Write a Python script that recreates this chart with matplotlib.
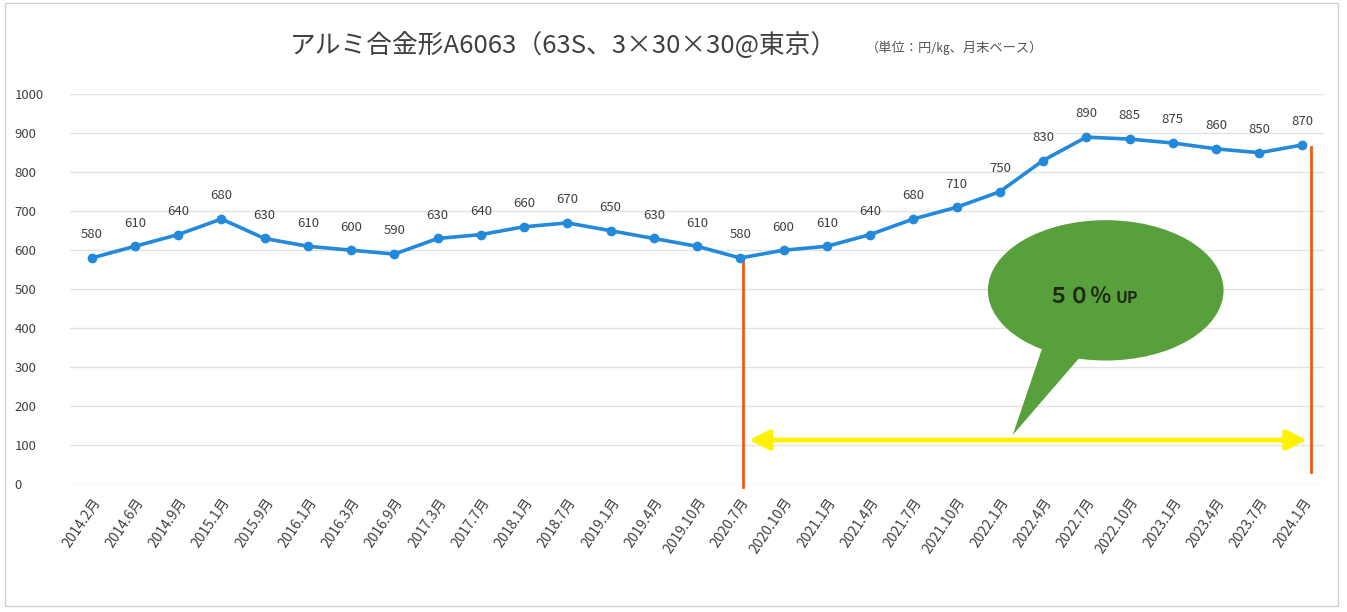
import numpy as np
import matplotlib
matplotlib.use("Agg")
import matplotlib.pyplot as plt
from matplotlib.patches import Ellipse, Polygon, Rectangle

plt.rcParams['font.family'] = ['Noto Sans CJK JP', 'DejaVu Sans']

# ---------
# data
# ---------
months = ["2014.2月", "2014.6月", "2014.9月", "2015.1月", "2015.9月", "2016.1月",
          "2016.3月", "2016.9月", "2017.3月", "2017.7月", "2018.1月", "2018.7月",
          "2019.1月", "2019.4月", "2019.10月", "2020.7月", "2020.10月", "2021.1月",
          "2021.4月", "2021.7月", "2021.10月", "2022.1月", "2022.4月", "2022.7月",
          "2022.10月", "2023.1月", "2023.4月", "2023.7月", "2024.1月"]
prices = [580, 610, 640, 680, 630, 610, 600, 590, 630, 640, 660, 670, 650, 630,
          610, 580, 600, 610, 640, 680, 710, 750, 830, 890, 885, 875, 860, 850, 870]
yticks = [0, 100, 200, 300, 400, 500, 600, 700, 800, 900, 1000]
start_idx = 15
end_idx = 28

# ---------
# plot
# ---------
fig = plt.figure(figsize=(13.47, 6.12), dpi=100)
ax = fig.add_axes([0.052, 0.209, 0.931, 0.637])
x = np.arange(len(months))

ax.plot(x, prices, color="#2389DA", lw=2.6, marker="o", ms=6, zorder=3)
for xi, v in zip(x, prices):
    ax.annotate(str(v), (xi, v), xytext=(0, 12), textcoords="offset points",
                ha="center", va="bottom", fontsize=9.5, color="#404040")

ax.set_xlim(-0.5, len(months) - 0.5)
ax.set_ylim(0, 1000)
ax.set_yticks(yticks)
ax.set_yticklabels([str(t) for t in yticks], fontsize=9.5, color="#404040")
ax.set_xticks(x)
ax.set_xticklabels(months, rotation=56, ha="right", rotation_mode="anchor",
                   fontsize=10, color="#404040")
ax.tick_params(length=0, pad=8)
ax.tick_params(axis="y", pad=40)
for lbl in ax.get_yticklabels():
    lbl.set_horizontalalignment("left")
ax.grid(axis="y", color="#E2E2E2", lw=1)
ax.set_axisbelow(True)
for s in ax.spines.values():
    s.set_visible(False)

# orange markers for the 2020.7 -> 2024.1 span
ax.plot([start_idx + 0.07, start_idx + 0.07], [-8, prices[start_idx]],
        color="#F05A14", lw=2, zorder=2, clip_on=False)
ax.plot([end_idx + 0.2, end_idx + 0.2], [30, prices[end_idx] - 5],
        color="#F05A14", lw=2, zorder=2, clip_on=False)

# yellow double arrow
ax.annotate("", xy=(start_idx + 0.2, 113), xytext=(end_idx + 0.1, 113),
            arrowprops=dict(arrowstyle="<|-|>", color="#FFF200", lw=3.5,
                            mutation_scale=30, shrinkA=0, shrinkB=0))

# green speech bubble
bubble_c = (23.45, 497)
tail = Polygon([[22.2, 420], [21.3, 126], [23.2, 370]], closed=True,
               facecolor="#57A03C", edgecolor="none", zorder=4)
ax.add_patch(tail)
ax.add_patch(Ellipse(bubble_c, 5.45, 360, facecolor="#57A03C",
                     edgecolor="none", zorder=4))
ax.text(22.85, 480, "５０％", ha="center", va="center", fontsize=15.5,
        fontweight="bold", color="#1E2A14", zorder=5)
ax.text(23.95, 478, "UP", ha="center", va="center", fontsize=11.5,
        fontweight="bold", color="#1E2A14", zorder=5)

# title
fig.text(0.418, 0.925, "アルミ合金形A6063（63S、3×30×30@東京）", ha="center",
         va="center", fontsize=18.5, color="#404040")
fig.text(0.709, 0.922, "（単位：円/㎏、月末ベース）", ha="center", va="center",
         fontsize=9.5, color="#555555")

# chart frame
fig.patches.append(Rectangle((0.004, 0.01), 0.989, 0.985, transform=fig.transFigure,
                             fill=False, edgecolor="#D0D0D0", lw=1))

fig.savefig("out.png", dpi=100)
